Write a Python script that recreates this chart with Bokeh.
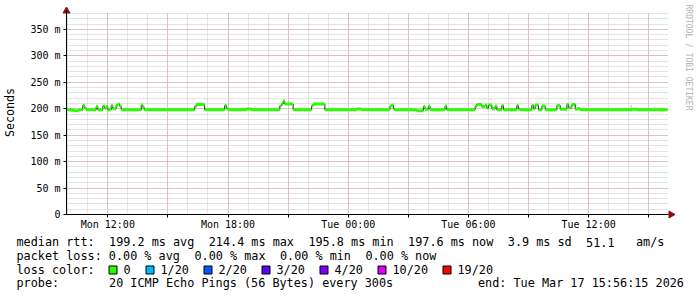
import math
import re
import pandas as pd
from bokeh.plotting import figure
from bokeh.models import FixedTicker, Label, ColumnDataSource, Range1d
from bokeh.core.properties import value
from bokeh.embed import file_html
from bokeh.resources import INLINE

# ---------------- data ----------------
day_dates = {"Mon": "2026-03-16", "Tue": "2026-03-17"}
range_start = "Mon 09:56:15"
range_end = "Tue 15:56:15"

times = [
    "Mon 09:55", "Mon 10:10", "Mon 10:20", "Mon 10:30", "Mon 10:35", "Mon 10:45", "Mon 10:50", "Mon 10:55",
    "Mon 11:25", "Mon 11:30", "Mon 11:45", "Mon 11:50", "Mon 11:55", "Mon 12:00",
    "Mon 12:10", "Mon 12:15", "Mon 12:25", "Mon 12:30", "Mon 12:35", "Mon 12:40",
    "Mon 13:40", "Mon 13:45", "Mon 13:50",
    "Mon 16:20", "Mon 16:25", "Mon 16:50",
    "Mon 17:50", "Mon 17:55", "Mon 18:00",
    "Mon 18:55", "Mon 19:10",
    "Mon 20:35", "Mon 20:40", "Mon 20:45", "Mon 20:50", "Mon 21:15",
    "Mon 22:10", "Mon 22:15", "Mon 22:50",
    "Tue 00:25", "Tue 00:40",
    "Tue 02:05", "Tue 02:10", "Tue 02:15", "Tue 02:20",
    "Tue 03:25", "Tue 03:45", "Tue 03:50", "Tue 04:00", "Tue 04:05",
    "Tue 04:50", "Tue 04:55",
    "Tue 06:20", "Tue 06:25", "Tue 06:40", "Tue 06:50", "Tue 06:55", "Tue 07:00", "Tue 07:10", "Tue 07:20", "Tue 07:25",
    "Tue 07:40", "Tue 07:45",
    "Tue 08:25", "Tue 08:30", "Tue 08:35",
    "Tue 09:10", "Tue 09:15", "Tue 09:20", "Tue 09:30",
    "Tue 09:40", "Tue 09:50",
    "Tue 10:25", "Tue 10:35",
    "Tue 10:55", "Tue 11:00", "Tue 11:10", "Tue 11:20", "Tue 11:25", "Tue 11:35",
    "Tue 14:10", "Tue 14:25", "Tue 15:55",
]
median_rtt_ms = [
    198, 197, 196, 197, 198, 206, 202, 198,
    204, 198, 205, 201, 204, 198,
    206, 200, 206, 209, 205, 198,
    207, 202, 198,
    204, 208, 198,
    206, 200, 198,
    199.5, 198,
    205, 209, 214.4, 209, 198,
    205, 209, 198,
    199.5, 198,
    205, 207, 199, 198,
    196, 204, 199, 205, 198,
    205, 198,
    204, 208, 204, 207, 201, 207, 200, 205, 198,
    206, 198,
    206, 199, 198,
    206, 200, 207, 198,
    205, 198,
    206, 199,
    208, 202, 208, 199, 200, 198,
    199, 198, 197.6,
]

# faint "smoke" (spread of the pings) in a few places
smoke_start = ["Tue 03:00", "Tue 14:05", "Tue 14:10", "Tue 15:15"]
smoke_end = ["Tue 03:05", "Tue 14:10", "Tue 14:25", "Tue 15:20"]
smoke_low = [198, 198, 198, 198]
smoke_high = [203, 207, 201, 204]

y_ticks = [0, 50, 100, 150, 200, 250, 300, 350]
y_tick_labels = ["0", "50 m", "100 m", "150 m", "200 m", "250 m", "300 m", "350 m"]
y_minor = list(range(10, 381, 10))
y_top = 380

x_major_times = ["Mon 12:00", "Mon 15:00", "Mon 18:00", "Mon 21:00", "Tue 00:00",
                 "Tue 03:00", "Tue 06:00", "Tue 09:00", "Tue 12:00", "Tue 15:00"]
x_major_labels = ["Mon 12:00", "", "Mon 18:00", "", "Tue 00:00",
                  "", "Tue 06:00", "", "Tue 12:00", ""]

legend_lines = [
    "median rtt:  199.2 ms avg  214.4 ms max  195.8 ms min  197.6 ms now  3.9 ms sd  51.1   am/s",
    "packet loss: 0.00 % avg  0.00 % max  0.00 % min  0.00 % now",
    "loss color:",
    "probe:       20 ICMP Echo Pings (56 Bytes) every 300s",
]
loss_labels = ["0", "1/20", "2/20", "3/20", "4/20", "10/20", "19/20"]
loss_colors = ["#26ff00", "#00b8ff", "#0059ff", "#5e00ff", "#7e00ff", "#dd00ff", "#ff0000"]
legend_end = "end: Tue Mar 17 15:56:15 2026"
watermark = "RRDTOOL / TOBI OETIKER"

# ---------------- geometry / helpers ----------------
def to_ms(s):
    d, t = s.split(" ")
    return pd.Timestamp(f"{day_dates[d]} {t}").value // 10**6

W, H = 697, 297
FL = 66                    # pixel column of the y axis
PX_END = 667               # pixel column of the end of the time range
Y0_PX, YTOP_PX = 214, 13   # pixel rows of 0 and of the top of the scale

x0, x1 = to_ms(range_start), to_ms(range_end)
ms_per_px = (x1 - x0) / (PX_END - FL)
val_per_px = y_top / (Y0_PX - YTOP_PX)

def px_x(X):
    return x0 + (X - FL) * ms_per_px

def px_y(Y):
    return (Y0_PX - Y) * val_per_px

MONO = "DejaVu Sans Mono"
GREEN = loss_colors[0]
BAND = 2.8        # half thickness of the median band
ARROW = "#8f1010"
FS = "11.8px"     # legend font size
PITCH = 7.12      # legend character pitch
LX = 16           # legend left edge
ROW_Y = [241.5, 255.3, 269.0, 282.8]

xs = [to_ms(t) for t in times] + [x1]
ys = median_rtt_ms + [median_rtt_ms[-1]]

p = figure(width=W, height=H, output_backend="svg", toolbar_location=None,
           x_axis_type="datetime",
           x_range=Range1d(px_x(0), px_x(W)), y_range=Range1d(px_y(H), px_y(0)),
           min_border_left=0, min_border_right=0, min_border_top=0, min_border_bottom=0)
p.background_fill_color = "white"
p.border_fill_color = "white"
p.outline_line_color = None

# grids
x_major_ms = [to_ms(t) for t in x_major_times]
hour_ms = [v // 10**6 for v in pd.date_range("2026-03-16 10:00", "2026-03-17 15:00", freq="1h").asi8]
p.xgrid.ticker = FixedTicker(ticks=x_major_ms, minor_ticks=hour_ms)
p.ygrid.ticker = FixedTicker(ticks=y_ticks, minor_ticks=y_minor)
p.xgrid.bounds = (x0, x1)
p.xgrid.cross_bounds = (0, y_top)
p.ygrid.bounds = (0, y_top + 0.5)
p.ygrid.cross_bounds = (x0, x1)
for g in (p.xgrid, p.ygrid):
    g.grid_line_color = "#dfa0a0"
    g.grid_line_dash = "1 1"
    g.grid_line_width = 1
    g.minor_grid_line_color = "#c8c8c8"
    g.minor_grid_line_dash = "1 1"
    g.minor_grid_line_width = 1

# axes, pinned inside the canvas
p.xaxis.fixed_location = 0
p.yaxis.fixed_location = x0
p.xaxis.ticker = FixedTicker(ticks=x_major_ms, minor_ticks=[])
p.xaxis.major_label_overrides = {int(k): v for k, v in zip(x_major_ms, x_major_labels)}
p.yaxis.ticker = FixedTicker(ticks=y_ticks, minor_ticks=[])
p.yaxis.major_label_overrides = {k: v for k, v in zip(y_ticks, y_tick_labels)}
for ax in (p.xaxis[0], p.yaxis[0]):
    ax.axis_line_color = "black"
    ax.axis_line_width = 1
    ax.major_tick_line_color = "black"
    ax.major_tick_out = 3
    ax.major_tick_in = 0
    ax.minor_tick_line_color = None
    ax.major_label_text_font = MONO
    ax.major_label_text_font_size = "10px"
    ax.major_label_text_color = "black"
p.yaxis.major_label_standoff = 3
p.yaxis.bounds = (0, px_y(10))
p.xaxis.bounds = (x0, px_x(668))
p.xaxis.major_label_standoff = 1
p.yaxis.axis_label = "Seconds"
p.yaxis.axis_label_text_font = MONO
p.yaxis.axis_label_text_font_size = "11.7px"
p.yaxis.axis_label_text_font_style = "normal"
p.yaxis.axis_label_text_color = "black"
p.yaxis.axis_label_standoff = 10

# smoke
p.quad(left=[to_ms(t) for t in smoke_start], right=[to_ms(t) for t in smoke_end],
       bottom=smoke_low, top=smoke_high, fill_color="#d4d4d4", line_color=None)

# median: thin dark line + loss-coloured band
src = ColumnDataSource(dict(x=xs, y=ys, lo=[v - BAND for v in ys], hi=[v + BAND for v in ys]))
p.step("x", "y", source=src, mode="after", line_color="#202020", line_width=1)
p.varea_step(x="x", y1="lo", y2="hi", source=src, step_mode="after", fill_color=GREEN)

# axis arrows
p.scatter([x0], [px_y(10.5)], marker="triangle", size=7, fill_color=ARROW, line_color=ARROW)
p.scatter([px_x(670.5)], [0], marker="triangle", size=7, angle=-math.pi / 2,
          fill_color=ARROW, line_color=ARROW)

# watermark
p.add_layout(Label(x=px_x(688), y=px_y(4), text=watermark, angle=-math.pi / 2,
                   text_font=MONO, text_font_size="8px", text_color="#b4b4b4",
                   text_align="left", text_baseline="middle"))

# ---------------- legend below the graph ----------------
tok_x, tok_y, tok_text = [], [], []
for line, ry in zip(legend_lines, ROW_Y):
    for m in re.finditer(r"\S+(?: \S+)*", line):
        tok_x.append(px_x(LX + m.start() * PITCH))
        tok_y.append(px_y(ry))
        tok_text.append(m.group(0))
p.text(x=tok_x, y=tok_y, text=tok_text, text_font=value(MONO), text_font_size=FS,
       text_color="black", text_align="left", text_baseline="middle")
p.text(x=[px_x(477.5)], y=[px_y(ROW_Y[3])], text=[legend_end], text_font=value(MONO),
       text_font_size=FS, text_color="black", text_align="left", text_baseline="middle")

box_px = [108.5, 145.5, 203.5, 261.5, 319.5, 377.5, 442.5]
p.quad(left=[px_x(b) for b in box_px], right=[px_x(b + 8) for b in box_px],
       top=[px_y(265.5)] * len(box_px), bottom=[px_y(273.5)] * len(box_px),
       fill_color=loss_colors, line_color="black", line_width=1)
p.text(x=[px_x(b + 14.5) for b in box_px], y=[px_y(ROW_Y[2])] * len(box_px), text=loss_labels,
       text_font=value(MONO), text_font_size=FS, text_color="black",
       text_align="left", text_baseline="middle")

open("out.html", "w").write(file_html(p, INLINE))
